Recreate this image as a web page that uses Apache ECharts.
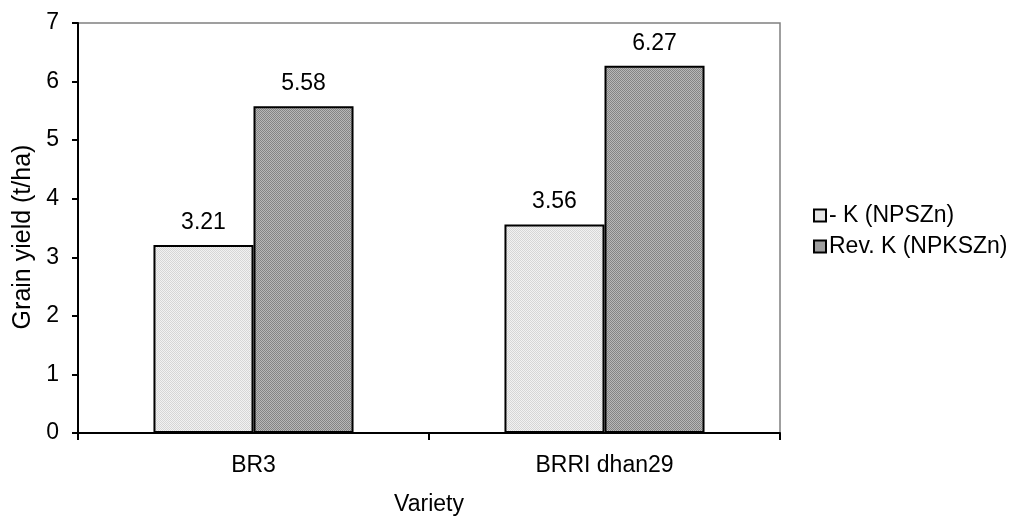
<!DOCTYPE html>
<html>
<head>
<meta charset="utf-8">
<script src="https://cdn.jsdelivr.net/npm/echarts@6/dist/echarts.min.js"></script>
<style>
  html, body { margin: 0; padding: 0; background: #fff; }
  #chart { width: 1016px; height: 521px; }
</style>
</head>
<body>
<div id="chart"></div>
<script>
const categories = ['BR3', 'BRRI dhan29']
const seriesNames = ['- K (NPSZn)', 'Rev. K (NPKSZn)']
const minusK = [3.21, 3.56]
const revK = [5.58, 6.27]

// small dotted fills like the old spreadsheet patterns
function makePattern(a, b) {
  const c = document.createElement('canvas')
  c.width = 2
  c.height = 2
  const ctx = c.getContext('2d')
  ctx.fillStyle = a
  ctx.fillRect(0, 0, 2, 2)
  ctx.fillStyle = b
  ctx.fillRect(0, 0, 1, 1)
  ctx.fillRect(1, 1, 1, 1)
  return { image: c, repeat: 'repeat' }
}
const lightFill = makePattern('#f2f2f2', '#d6d6d6')
const darkFill = makePattern('#b8b8b8', '#848484')

const font = 'Arial, "Liberation Sans", sans-serif'
const fs = 23
const chart = echarts.init(document.getElementById('chart'), null, { renderer: 'canvas' })

const labelStyle = {
  show: true,
  position: 'top',
  distance: 11,
  color: '#000',
  fontFamily: font,
  fontSize: fs,
  formatter: p => p.value.toFixed(2)
}

chart.setOption({
  animation: false,
  backgroundColor: '#fff',
  textStyle: { fontFamily: font },
  grid: {
    left: 78,
    right: 236,
    top: 23,
    bottom: 87,
    show: true,
    borderColor: '#808080',
    borderWidth: 1.5
  },
  // y axis title sits a bit below the plot's middle in the original
  graphic: [{
    type: 'text',
    x: 23,
    y: 237,
    rotation: Math.PI / 2,
    style: {
      text: 'Grain yield (t/ha)',
      fill: '#000',
      font: '25px ' + font,
      align: 'center',
      verticalAlign: 'middle'
    }
  }],
  legend: {
    orient: 'vertical',
    left: 808,
    top: 199,
    itemWidth: 12,
    itemHeight: 12,
    itemGap: 8,
    icon: 'rect',
    textStyle: { color: '#000', fontSize: fs, fontFamily: font, padding: [0, 0, 0, -2] },
    data: seriesNames
  },
  xAxis: {
    type: 'category',
    data: categories,
    name: 'Variety',
    nameLocation: 'middle',
    nameGap: 60,
    nameTextStyle: { color: '#000', fontSize: fs, fontFamily: font },
    axisLine: { lineStyle: { color: '#000', width: 2 } },
    axisTick: { show: true, length: 7, lineStyle: { color: '#000', width: 2 } },
    axisLabel: { color: '#000', fontSize: fs, fontFamily: font, margin: 21 },
    splitLine: { show: false }
  },
  yAxis: {
    type: 'value',
    min: 0,
    max: 7,
    interval: 1,
    axisLine: { show: true, lineStyle: { color: '#000', width: 2 } },
    axisTick: { show: true, length: 6, lineStyle: { color: '#000', width: 2 } },
    axisLabel: { color: '#000', fontSize: fs, fontFamily: font, margin: 19 },
    splitLine: { show: false }
  },
  series: [
    {
      name: seriesNames[0],
      type: 'bar',
      data: minusK,
      barWidth: '28.5%',
      barGap: '0%',
      itemStyle: { color: lightFill, borderColor: '#000', borderWidth: 2 },
      label: labelStyle
    },
    {
      name: seriesNames[1],
      type: 'bar',
      data: revK,
      barWidth: '28.5%',
      barGap: '0%',
      itemStyle: { color: darkFill, borderColor: '#000', borderWidth: 2 },
      label: labelStyle
    }
  ]
})
</script>
</body>
</html>
